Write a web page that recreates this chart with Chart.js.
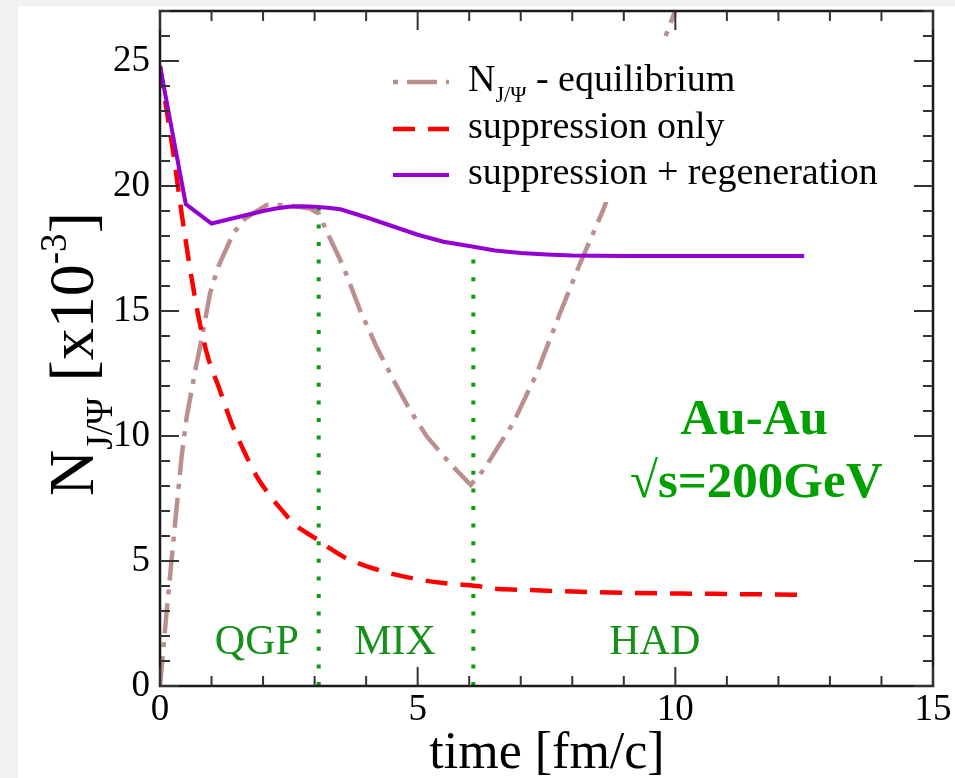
<!DOCTYPE html>
<html>
<head>
<meta charset="utf-8">
<script src="https://cdn.jsdelivr.net/npm/chart.js@4.4.0/dist/chart.umd.min.js"></script>
<style>
    html, body { margin: 0; padding: 0; background: #f2f2f2; }
    #wrap { width: 955px; height: 778px; }
</style>
</head>
<body>
<div id="wrap"><canvas id="jpsi" width="955" height="778"></canvas></div>
<script>
// time [fm/c] and N_J/psi [x10^-3]
var regenTime = [0, 0.5, 1.0, 1.5, 2.0, 2.25, 2.5, 2.75, 3.0, 3.25, 3.5, 4.0, 4.5, 5.0, 5.5, 6.0, 6.5, 7.0, 7.5, 8.0, 9.0, 10.0, 11.0, 12.0, 12.5];
var regenValues = [24.8, 19.28, 18.5, 18.75, 19.0, 19.1, 19.17, 19.19, 19.17, 19.13, 19.07, 18.75, 18.4, 18.05, 17.77, 17.6, 17.42, 17.32, 17.26, 17.22, 17.2, 17.2, 17.2, 17.2, 17.2];

var suppTime = [0, 0.13, 0.26, 0.42, 0.71, 0.91, 1.16, 1.39, 1.62, 1.88, 2.2, 2.4, 2.59, 2.85, 3.07, 3.3, 3.56, 4.14, 4.92, 5.5, 6.15, 6.44, 7.0, 8.15, 9.0, 10.1, 11.0, 12.5];
var suppValues = [24.8, 23.0, 21.3, 18.9, 15.17, 13.3, 11.84, 10.5, 9.44, 8.37, 7.44, 6.95, 6.5, 6.12, 5.84, 5.5, 5.17, 4.7, 4.3, 4.12, 4.0, 3.9, 3.85, 3.77, 3.73, 3.7, 3.68, 3.65];

var eqTime = [0, 0.13, 0.26, 0.42, 0.52, 0.71, 0.81, 0.97, 1.13, 1.42, 1.65, 2.07, 2.46, 2.91, 3.08, 3.3, 3.56, 3.88, 4.2, 4.53, 4.85, 5.18, 5.63, 6.03, 6.3, 6.6, 6.85, 7.31, 7.76, 8.15, 8.6, 9.2, 9.83, 10.05];
var eqValues = [0, 3.0, 5.8, 9.2, 10.8, 12.9, 13.9, 15.7, 16.77, 18.1, 18.7, 19.24, 19.24, 19.1, 18.9, 17.9, 16.77, 15.04, 13.57, 12.24, 11.04, 9.97, 8.9, 8.04, 8.7, 9.7, 10.5, 12.5, 14.9, 16.9, 19.04, 22.4, 26.1, 27.3];

// phase boundaries (QGP|MIX, MIX|HAD) and where the dotted lines stop
var boundaryTime = [3.08, 6.08];
var boundaryTop = [19.17, 17.6];

var phaseNames = ["QGP", "MIX", "HAD"];
var seriesNames = ["suppression + regeneration", "suppression only", "N_{J/\u03A8} - equilibrium"];

var xMajor = 5, yMajor = 5;

function toPoints(xs, ys) {
    var pts = [];
    for (var i = 0; i < xs.length; i++) pts.push({ x: xs[i], y: ys[i] });
    return pts;
}

var SERIF = "'Liberation Serif', 'Times New Roman', serif";

// text with _{sub} and ^{sup}
function richParts(str) {
    var parts = [], re = /([_^])\{([^}]*)\}/g, last = 0, m;
    while ((m = re.exec(str))) {
        if (m.index > last) parts.push({ t: str.slice(last, m.index), k: "" });
        parts.push({ t: m[2], k: m[1] });
        last = re.lastIndex;
    }
    if (last < str.length) parts.push({ t: str.slice(last), k: "" });
    return parts;
}
function drawRich(ctx, str, x, y, size, align) {
    var parts = richParts(str);
    var w = [], total = 0;
    parts.forEach(function (p) {
        var s = p.k ? size * 0.58 : size;
        ctx.font = s + "px " + SERIF;
        var pw = ctx.measureText(p.t).width;
        w.push(pw);
        total += pw;
    });
    var cx = align === "center" ? x - total / 2 : x;
    ctx.textAlign = "left";
    ctx.textBaseline = "alphabetic";
    parts.forEach(function (p, i) {
        var s = p.k ? size * 0.58 : size;
        ctx.font = s + "px " + SERIF;
        var dy = p.k === "_" ? size * 0.3 : (p.k === "^" ? -size * 0.42 : 0);
        ctx.fillText(p.t, cx, y + dy);
        cx += w[i];
    });
}

var background = {
    id: "background",
    beforeDraw: function (chart) {
        var c = chart.ctx;
        c.save();
        c.fillStyle = "#f2f2f2";
        c.fillRect(0, 0, chart.width, chart.height);
        c.fillStyle = "#ffffff";
        c.fillRect(18, 6, chart.width - 18, chart.height - 6);
        c.restore();
    }
};

var overlay = {
    id: "overlay",
    afterDraw: function (chart) {
        var c = chart.ctx, a = chart.chartArea;
        var xs = chart.scales.x, ys = chart.scales.y;
        var ds = chart.data.datasets;
        c.save();

        // legend box
        c.fillStyle = "#ffffff";
        c.fillRect(382, 38, 532, 164);
        var rows = [
            { d: ds[4], y: 82, off: 39 },
            { d: ds[3], y: 129, off: 0 },
            { d: ds[0], y: 175, off: 0 }
        ];
        rows.forEach(function (r) {
            c.strokeStyle = r.d.borderColor;
            c.lineWidth = r.d.borderWidth;
            c.setLineDash(r.d.borderDash || []);
            c.lineDashOffset = r.off;
            c.beginPath();
            c.moveTo(393, r.y);
            c.lineTo(449, r.y);
            c.stroke();
            c.setLineDash([]);
            c.fillStyle = "#000";
            drawRich(c, r.d.label, 468, r.y + 9, 38, "left");
        });

        // frame
        c.strokeStyle = "#1a1a1a";
        c.lineWidth = 2.5;
        c.strokeRect(a.left, a.top, a.right - a.left, a.bottom - a.top);

        // inward ticks on all sides
        c.strokeStyle = "#333";
        c.lineWidth = 2;
        c.beginPath();
        for (var t = 0; t <= 15; t++) {
            var px = xs.getPixelForValue(t);
            var len = t % xMajor === 0 ? 19 : 10;
            c.moveTo(px, a.bottom); c.lineTo(px, a.bottom - len);
            c.moveTo(px, a.top); c.lineTo(px, a.top + len);
        }
        for (var v = 0; v <= 27; v++) {
            var py = ys.getPixelForValue(v);
            var l2 = v % yMajor === 0 ? 19 : 10;
            c.moveTo(a.left, py); c.lineTo(a.left + l2, py);
            c.moveTo(a.right, py); c.lineTo(a.right - l2, py);
        }
        c.stroke();

        // phase labels
        c.fillStyle = "#17901a";
        c.font = "42px " + SERIF;
        c.textAlign = "center";
        c.textBaseline = "alphabetic";
        var phaseX = [1.88, 4.56, 9.6];
        phaseNames.forEach(function (n, i) {
            c.fillText(n, xs.getPixelForValue(phaseX[i]), ys.getPixelForValue(1.84) + 14);
        });

        // collision system
        c.fillStyle = "#00a000";
        c.font = "bold 51px " + SERIF;
        c.fillText("Au-Au", xs.getPixelForValue(11.53), ys.getPixelForValue(10.1));
        c.fillText("\u221As=200GeV", xs.getPixelForValue(11.57), ys.getPixelForValue(7.55));

        // axis titles
        c.fillStyle = "#000";
        c.font = "52px " + SERIF;
        c.fillText("time [fm/c]", 547, 768);

        c.translate(93, 354);
        c.rotate(-Math.PI / 2);
        drawRich(c, "N_{J/\u03A8} [x10^{-3}]", 0, 0, 64, "center");

        c.restore();
    }
};

var ctx = document.getElementById("jpsi").getContext("2d");
var chart = new Chart(ctx, {
    type: "line",
    data: {
        datasets: [
            {
                label: seriesNames[0],
                data: toPoints(regenTime, regenValues),
                borderColor: "#9400d3",
                borderWidth: 4,
                tension: 0,
                pointRadius: 0
            },
            {
                label: "QGP/MIX",
                data: toPoints([boundaryTime[0], boundaryTime[0]], [0, boundaryTop[0]]),
                borderColor: "#0e9a0e",
                borderWidth: 4,
                borderDash: [4, 13.6],
                pointRadius: 0
            },
            {
                label: "MIX/HAD",
                data: toPoints([boundaryTime[1], boundaryTime[1]], [0, boundaryTop[1]]),
                borderColor: "#0e9a0e",
                borderWidth: 4,
                borderDash: [4, 13.6],
                pointRadius: 0
            },
            {
                label: seriesNames[1],
                data: toPoints(suppTime, suppValues),
                borderColor: "#ff0000",
                borderWidth: 4.5,
                borderDash: [22, 13],
                cubicInterpolationMode: "monotone",
                pointRadius: 0
            },
            {
                label: seriesNames[2],
                data: toPoints(eqTime, eqValues),
                borderColor: "#bc8f8f",
                borderWidth: 4.5,
                borderDash: [30, 9, 5, 9],
                tension: 0,
                pointRadius: 0
            }
        ]
    },
    options: {
        responsive: false,
        animation: false,
        devicePixelRatio: 1,
        layout: { padding: { top: 11, right: 22, left: 0, bottom: 0 } },
        plugins: { legend: { display: false }, tooltip: { enabled: false } },
        scales: {
            x: {
                type: "linear",
                min: 0,
                max: 15,
                ticks: { stepSize: xMajor, includeBounds: false, maxRotation: 0, padding: 2, color: "#000", font: { family: SERIF, size: 37 } },
                grid: { display: false, drawTicks: false },
                border: { display: false },
                afterFit: function (s) { s.height = 92; s.paddingLeft = 0; s.paddingRight = 0; }
            },
            y: {
                type: "linear",
                min: 0,
                max: 27,
                ticks: { stepSize: yMajor, includeBounds: false, padding: 10, color: "#000", font: { family: SERIF, size: 37 } },
                grid: { display: false, drawTicks: false },
                border: { display: false },
                afterFit: function (s) { s.width = 160; s.paddingTop = 0; s.paddingBottom = 0; }
            }
        }
    },
    plugins: [background, overlay]
});
</script>
</body>
</html>
